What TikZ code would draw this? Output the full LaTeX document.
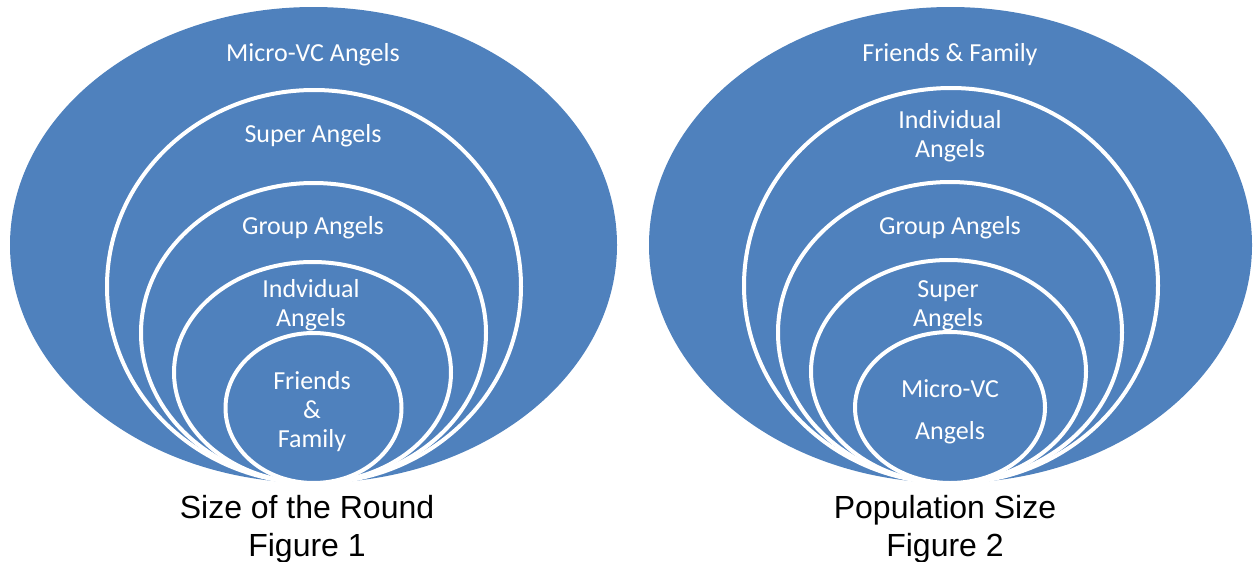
\documentclass[tikz,border=0pt]{standalone}
\usepackage{fontspec}
\setmainfont{Liberation Sans}
\newfontfamily\carlfont{Carlito}
\definecolor{ringblue}{HTML}{4F81BD}
\begin{document}
\begin{tikzpicture}[x=1pt,y=-1pt,
  outerring/.style={fill=ringblue},
  ring/.style={fill=ringblue, draw=white, line width=4pt},
  lbl/.style={text=white, font=\carlfont\fontsize{26}{29}\selectfont, align=center, inner sep=0pt},
  captext/.style={text=black, font=\fontsize{32}{38}\selectfont, align=center, inner sep=0pt}]
\useasboundingbox (0,0) rectangle (1253,562);
% ---- Figure 1 ----
\fill[outerring] (313.5,245) ellipse [x radius=303.5pt, y radius=238pt];
\draw[ring] (314,286.5) ellipse [x radius=207pt, y radius=196.5pt];
\draw[ring] (313.5,333) ellipse [x radius=172.5pt, y radius=150pt];
\draw[ring] (312.5,372.5) ellipse [x radius=138.5pt, y radius=110.5pt];
\draw[ring] (313.5,408) ellipse [x radius=88pt, y radius=75pt];
\node[lbl] (l1) at (313,55) {Micro-VC Angels};
\node[lbl] (l2) at (313,136) {Super Angels};
\node[lbl] (l3) at (313,228) {Group Angels};
\node[lbl] (l4) at (311,305) {Indvidual\\Angels};
\node[lbl] (l5) at (312,412) {Friends\\\&\\Family};
\node[captext] (c1) at (307,529) {Size of the Round\\Figure 1};
% ---- Figure 2 ----
\fill[outerring] (950.5,245) ellipse [x radius=301.5pt, y radius=238pt];
\draw[ring] (951,285.5) ellipse [x radius=207pt, y radius=197.5pt];
\draw[ring] (950,332.5) ellipse [x radius=172pt, y radius=150.5pt];
\draw[ring] (948.5,371.5) ellipse [x radius=137.5pt, y radius=111.5pt];
\draw[ring] (950,407.5) ellipse [x radius=95pt, y radius=75.5pt];
\node[lbl] (r1) at (950,55) {Friends \& Family};
\node[lbl] (r2) at (950,136) {Individual\\Angels};
\node[lbl] (r3) at (950,228) {Group Angels};
\node[lbl] (r4) at (948,306) {Super\\Angels};
\node[lbl] (r5) at (950,412) {Micro-VC\\[13pt]Angels};
\node[captext] (c2) at (945,529) {Population Size\\Figure 2};
\end{tikzpicture}
\end{document}
